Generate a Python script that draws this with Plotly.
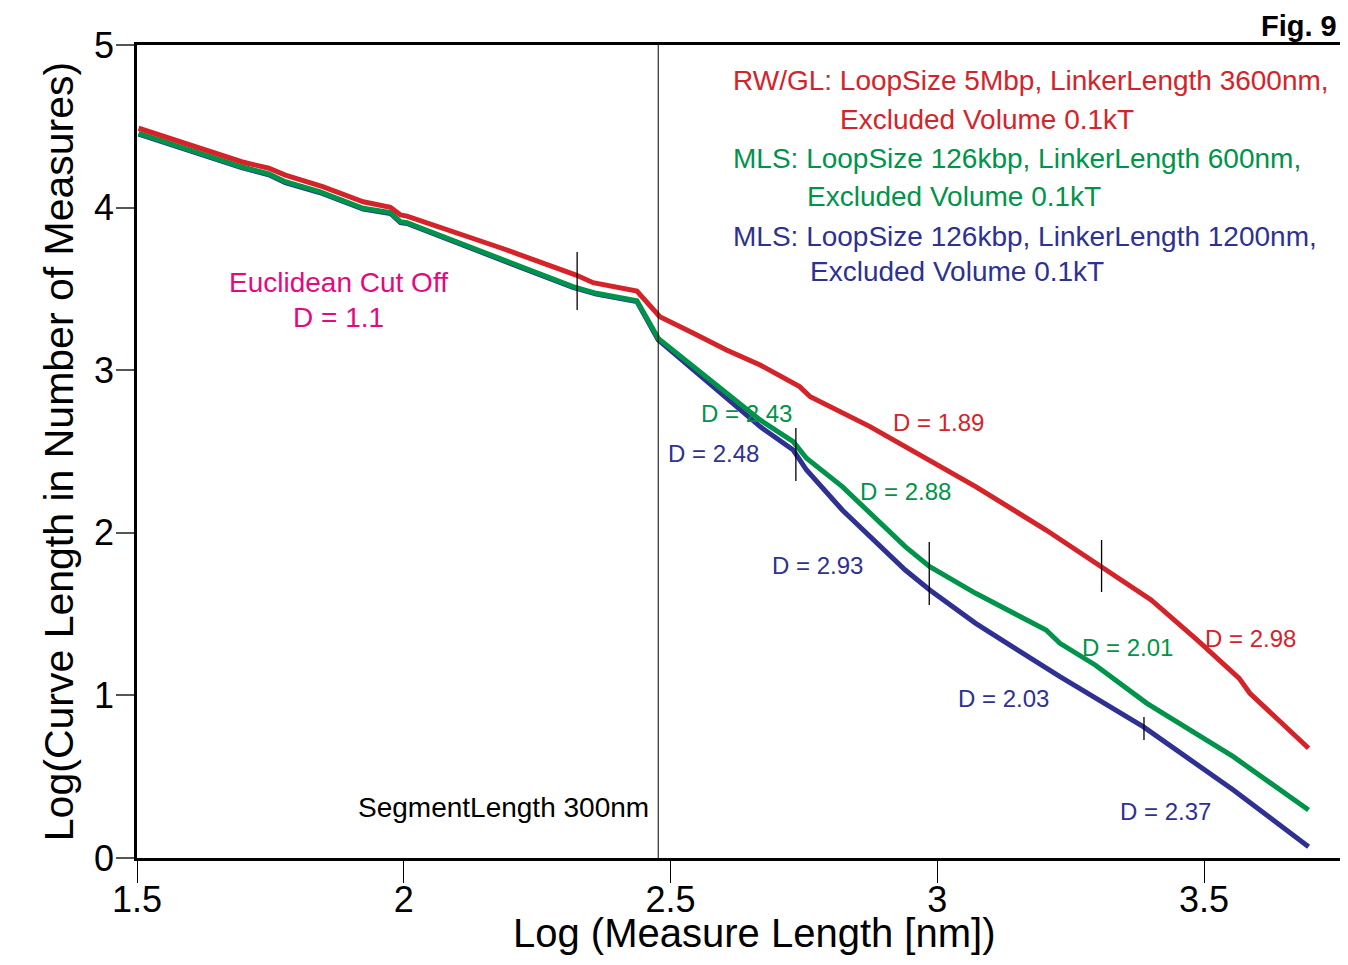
import plotly.graph_objects as go

# ---------------- data ----------------
red_x = [1.503, 1.696, 1.747, 1.778, 1.848, 1.924, 1.975, 1.994, 2.006, 2.184, 2.323, 2.355, 2.437,
         2.480, 2.543, 2.605, 2.668, 2.742, 2.762, 2.822, 2.874, 2.940, 3.072, 3.204, 3.309, 3.401,
         3.487, 3.566, 3.586, 3.696]
red_y = [4.488, 4.282, 4.242, 4.200, 4.129, 4.036, 4.002, 3.955, 3.948, 3.750, 3.585, 3.538, 3.487,
         3.329, 3.227, 3.124, 3.032, 2.899, 2.837, 2.735, 2.653, 2.530, 2.284, 2.017, 1.792, 1.587,
         1.341, 1.105, 1.013, 0.675]

green_x = [1.503, 1.696, 1.747, 1.778, 1.842, 1.924, 1.975, 1.994, 2.006, 2.184, 2.317, 2.361, 2.437,
           2.477, 2.543, 2.605, 2.668, 2.730, 2.755, 2.822, 2.874, 2.940, 2.986, 3.072, 3.204, 3.230,
           3.296, 3.393, 3.555, 3.696]
green_y = [4.457, 4.251, 4.207, 4.159, 4.098, 3.996, 3.969, 3.913, 3.907, 3.678, 3.514, 3.473, 3.427,
           3.196, 3.022, 2.858, 2.694, 2.560, 2.458, 2.284, 2.120, 1.915, 1.792, 1.628, 1.402, 1.320,
           1.187, 0.951, 0.623, 0.295]

blue_x = [1.503, 1.696, 1.747, 1.778, 1.842, 1.924, 1.975, 1.994, 2.006, 2.184, 2.317, 2.361, 2.437,
          2.477, 2.543, 2.605, 2.668, 2.730, 2.755, 2.822, 2.874, 2.940, 2.986, 3.072, 3.151, 3.230,
          3.386, 3.555, 3.696]
blue_y = [4.452, 4.246, 4.202, 4.154, 4.093, 3.991, 3.964, 3.908, 3.902, 3.673, 3.509, 3.468, 3.422,
          3.186, 3.001, 2.827, 2.653, 2.509, 2.386, 2.140, 1.976, 1.771, 1.648, 1.443, 1.279, 1.115,
          0.808, 0.418, 0.069]

series_names = ["RW/GL: LoopSize 5Mbp, LinkerLength 3600nm, Excluded Volume 0.1kT",
                "MLS: LoopSize 126kbp, LinkerLength 600nm, Excluded Volume 0.1kT",
                "MLS: LoopSize 126kbp, LinkerLength 1200nm, Excluded Volume 0.1kT"]

# breakpoint marks: x, y_low, y_high
break_x = [2.325, 2.735, 2.985, 3.308, 3.3875]
break_ylo = [3.370, 2.319, 1.556, 1.636, 0.726]
break_yhi = [3.727, 2.645, 1.943, 1.956, 0.867]

segment_x = 2.477  # log10(300 nm)

# slope labels: text, x, y, series
d_text = ["D = 1.89", "D = 2.98", "D = 2.43", "D = 2.88", "D = 2.01",
          "D = 2.48", "D = 2.93", "D = 2.03", "D = 2.37"]
d_x = [3.003, 3.588, 2.643, 2.940, 3.356, 2.581, 2.775, 3.125, 3.427]
d_y = [2.681, 1.353, 2.731, 2.251, 1.292, 2.485, 1.796, 0.984, 0.283]
d_series = [0, 0, 1, 1, 1, 2, 2, 2, 2]

x_ticks = [1.5, 2, 2.5, 3, 3.5]
x_ticktext = ["1.5", "2", "2.5", "3", "3.5"]
y_ticks = [0, 1, 2, 3, 4, 5]

x_title = "Log (Measure Length [nm])"
y_title = "Log(Curve Length in Number of Measures)"

# ---------------- style ----------------
RED = "#D5232A"
GREEN = "#00934A"
BLUE = "#2E3192"
MAGENTA = "#E5097F"
colors = [RED, GREEN, BLUE]
FONT = "Liberation Sans, Arial, Helvetica, sans-serif"

# the page body adds an 8px margin on every side; keep the page from overflowing
W, H = 1332, 949
ML, MR, MT, MB = 129, 0, 37, 99
pw, ph = W - ML - MR, H - MT - MB
X_MAX = 1.5 + pw / 533.5


def px_x(fx):
    return (fx - ML) / pw


def px_y(fy):
    return (H - MB - fy) / ph


fig = go.Figure()
fig.add_trace(go.Scatter(x=blue_x, y=blue_y, mode="lines", name=series_names[2],
                         line=dict(color=BLUE, width=5)))
fig.add_trace(go.Scatter(x=green_x, y=green_y, mode="lines", name=series_names[1],
                         line=dict(color=GREEN, width=5)))
fig.add_trace(go.Scatter(x=red_x, y=red_y, mode="lines", name=series_names[0],
                         line=dict(color=RED, width=5)))

# segment length line
fig.add_shape(type="line", xref="x", yref="y", x0=segment_x, x1=segment_x, y0=0, y1=5,
              line=dict(color="black", width=1))
for bx, lo, hi in zip(break_x, break_ylo, break_yhi):
    fig.add_shape(type="line", xref="x", yref="y", x0=bx, x1=bx, y0=lo, y1=hi,
                  line=dict(color="black", width=1.3))

ann = []
for t, x, y, s in zip(d_text, d_x, d_y, d_series):
    ann.append(dict(x=x, y=y, xref="x", yref="y", text=t, showarrow=False,
                    xanchor="center", yanchor="middle",
                    font=dict(family=FONT, size=24, color=colors[s])))

legend_lines = [
    ("RW/GL: LoopSize 5Mbp, LinkerLength 3600nm,", 2.613, 4.779, RED),
    ("Excluded Volume 0.1kT", 2.814, 4.539, RED),
    ("MLS: LoopSize 126kbp, LinkerLength 600nm,", 2.613, 4.299, GREEN),
    ("Excluded Volume 0.1kT", 2.752, 4.071, GREEN),
    ("MLS: LoopSize 126kbp, LinkerLength 1200nm,", 2.613, 3.825, BLUE),
    ("Excluded Volume 0.1kT", 2.758, 3.604, BLUE),
]
for t, x, y, c in legend_lines:
    ann.append(dict(x=x, y=y, xref="x", yref="y", text=t, showarrow=False,
                    xanchor="left", yanchor="middle",
                    font=dict(family=FONT, size=28, color=c)))

ann.append(dict(x=1.877, y=3.542, xref="x", yref="y", text="Euclidean Cut Off", showarrow=False,
                xanchor="center", yanchor="middle",
                font=dict(family=FONT, size=28, color=MAGENTA)))
ann.append(dict(x=1.877, y=3.327, xref="x", yref="y", text="D = 1.1", showarrow=False,
                xanchor="center", yanchor="middle",
                font=dict(family=FONT, size=28, color=MAGENTA)))
ann.append(dict(x=2.463, y=0.308, xref="x", yref="y", text="SegmentLength 300nm", showarrow=False,
                xanchor="right", yanchor="middle",
                font=dict(family=FONT, size=28, color="black")))
# x-axis title
ann.append(dict(x=px_x(746), y=px_y(925), xref="paper", yref="paper", text=x_title,
                showarrow=False, xanchor="center", yanchor="middle",
                font=dict(family=FONT, size=40, color="black")))
# figure tag
ann.append(dict(x=px_x(W - 1), y=px_y(18), xref="paper", yref="paper",
                text="<b>Fig. 9</b>", showarrow=False, xanchor="right", yanchor="middle",
                font=dict(family=FONT, size=29, color="black")))

fig.update_layout(
    width=W, height=H,
    margin=dict(l=ML, r=MR, t=MT, b=MB, autoexpand=False),
    paper_bgcolor="white", plot_bgcolor="white",
    showlegend=False,
    annotations=ann,
    font=dict(family=FONT, color="black"),
)
fig.update_xaxes(range=[1.5, X_MAX], tickvals=x_ticks, ticktext=x_ticktext,
                 ticks="outside", ticklen=22, tickwidth=1.3, tickcolor="black",
                 ticklabelstandoff=-14, automargin=False,
                 showline=True, linecolor="black", linewidth=2.5, mirror=True,
                 showgrid=False, zeroline=False,
                 tickfont=dict(family=FONT, size=36, color="black"))
fig.update_yaxes(range=[0, 5], tickvals=y_ticks, automargin=False,
                 ticks="outside", ticklen=18, tickwidth=2, tickcolor="#555",
                 ticklabelstandoff=-5,
                 showline=True, linecolor="black", linewidth=2.5,
                 showgrid=False, zeroline=False,
                 tickfont=dict(family=FONT, size=36, color="black"),
                 title=dict(text=y_title, standoff=8,
                            font=dict(family=FONT, size=41, color="black")))

fig.write_html("out.html")
